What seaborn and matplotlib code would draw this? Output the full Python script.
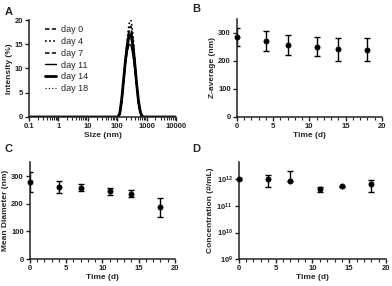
import numpy as np
import pandas as pd
import matplotlib
matplotlib.use("Agg")
import matplotlib.pyplot as plt
import seaborn as sns
from matplotlib.ticker import LogLocator, LogFormatterMathtext, MultipleLocator, FixedLocator

# ---- panel A : DLS size distributions (intensity %) ----
sizes = [0.1, 91.3, 105.7, 122.4, 141.8, 164.2, 190.1, 220.2, 255.0, 295.3,
         342.0, 396.1, 458.7, 531.2, 615.1, 712.4, 825.0, 10000]
day0 = [0, 0, 0, 0.6, 3.2, 7.5, 11.8, 15.6, 18.4, 18.7, 16.0, 11.5, 6.8, 3.0, 0.8, 0, 0, 0]
day4 = [0, 0, 0, 0.3, 2.5, 7.0, 11.8, 16.2, 19.3, 20.0, 17.0, 12.0, 6.5, 2.5, 0.4, 0, 0, 0]
day7 = [0, 0, 0, 0.5, 3.0, 7.2, 11.5, 15.2, 17.6, 17.8, 15.3, 11.0, 6.5, 2.8, 0.7, 0, 0, 0]
day11 = [0, 0, 0, 1.0, 3.8, 7.4, 10.8, 13.5, 15.0, 14.8, 12.8, 9.8, 6.4, 3.4, 1.2, 0.2, 0, 0]
day14 = [0, 0, 0, 0.8, 3.6, 7.6, 11.6, 14.8, 16.8, 17.0, 14.8, 11.0, 6.8, 3.2, 1.0, 0.1, 0, 0]
day18 = [0, 0, 0, 0.7, 3.4, 7.4, 11.4, 14.6, 16.4, 16.5, 14.3, 10.6, 6.6, 3.1, 0.9, 0.1, 0, 0]
day_labels = ["day 0", "day 4", "day 7", "day 11", "day 14", "day 18"]

# ---- panels B-D : stability over time ----
time_d = [0, 4, 7, 11, 14, 18]
z_avg = [285, 271, 257, 250, 241, 239]
z_err = [32, 37, 35, 34, 41, 41]
mean_diam = [278, 260, 258, 245, 236, 187]
mean_err = [37, 22, 13, 12, 12, 34]
conc = [1.05e12, 1.0e12, 8.5e11, 4.4e11, 5.6e11, 6.5e11]
conc_err_lo = [1.0e11, 5.0e11, 0, 9.0e10, 3.0e10, 3.2e11]   # lower arm would go below zero on day 7
conc_err_hi = [1.0e11, 5.0e11, 1.25e12, 9.0e10, 3.0e10, 3.2e11]

sns.set_style("ticks")
plt.rcParams["font.family"] = ["Liberation Sans", "DejaVu Sans"]
plt.rcParams["axes.linewidth"] = 1.1
plt.rcParams["xtick.major.width"] = 1.0
plt.rcParams["ytick.major.width"] = 1.0
plt.rcParams["xtick.minor.width"] = 0.8
plt.rcParams["xtick.major.size"] = 3
plt.rcParams["ytick.major.size"] = 3
plt.rcParams["xtick.minor.size"] = 2
plt.rcParams["xtick.major.pad"] = 1.5
plt.rcParams["ytick.major.pad"] = 1.2
plt.rcParams["mathtext.default"] = "regular"

fig = plt.figure(figsize=(3.92, 2.86), dpi=100)
fig.patch.set_facecolor("white")

tick_fs = 5.5
lab_fs = 6


def style_ax(ax):
    sns.despine(ax=ax)
    for lab in ax.get_xticklabels() + ax.get_yticklabels():
        lab.set_fontweight("bold")
        lab.set_fontsize(tick_fs)
    ax.tick_params(colors="#222222", labelcolor="#222222")
    for s in ["left", "bottom"]:
        ax.spines[s].set_color("#222222")


# panel A
axA = fig.add_axes([0.074, 0.591, 0.375, 0.339])
dfA = pd.DataFrame({"size": sizes * 6,
                    "intensity": day0 + day4 + day7 + day11 + day14 + day18,
                    "day": np.repeat(day_labels, len(sizes))})
styles = {"day 0": ((3, 1.5), 1.1), "day 4": ((1, 1.5), 1.2), "day 7": ((3, 1.5), 1.1),
          "day 11": ((None, None), 1.0), "day 14": ((None, None), 2.0), "day 18": ((1, 2), 0.8)}
for d in day_labels:
    sub = dfA[dfA["day"] == d]
    dash, lw = styles[d]
    sns.lineplot(data=sub, x="size", y="intensity", ax=axA, color="black",
                 linewidth=lw, label=d)
    line = axA.get_lines()[-1]
    if dash[0] is not None:
        line.set_dashes(dash)
axA.set_xscale("log")
axA.set_xlim(0.1, 10000)
axA.set_ylim(0, 20)
axA.xaxis.set_major_locator(FixedLocator([0.1, 1, 10, 100, 1000, 10000]))
axA.set_xticklabels(["0.1", "1", "10", "100", "1000", "10000"])
axA.xaxis.set_minor_locator(LogLocator(base=10, subs=np.arange(2, 10), numticks=20))
axA.yaxis.set_major_locator(MultipleLocator(5))
axA.set_xlabel("Size (nm)", fontsize=lab_fs, fontweight="bold", labelpad=1)
axA.set_ylabel("Intensity (%)", fontsize=lab_fs, fontweight="bold", labelpad=1.5)
axA.legend(frameon=False, fontsize=6.5, loc="upper left", bbox_to_anchor=(0.07, 1.0),
           handlelength=1.2, handletextpad=0.6, labelspacing=0.3, borderaxespad=0.2)
style_ax(axA)


def time_panel(ax, y, err, ylabel):
    ax.errorbar(time_d, y, yerr=err, fmt="none", ecolor="black", elinewidth=1.0,
                capsize=2, capthick=1.0)
    sns.scatterplot(x=time_d, y=y, ax=ax, color="black", s=14, edgecolor="black",
                    linewidth=0.5, zorder=3, clip_on=False)
    ax.set_xlim(0, 20)
    ax.xaxis.set_major_locator(MultipleLocator(5))
    ax.xaxis.set_minor_locator(MultipleLocator(1))
    ax.set_xlabel("Time (d)", fontsize=lab_fs, fontweight="bold", labelpad=1)
    ax.set_ylabel(ylabel, fontsize=lab_fs, fontweight="bold", labelpad=1.5)


# panel B
axB = fig.add_axes([0.604, 0.591, 0.370, 0.343])
time_panel(axB, z_avg, z_err, "Z-average (nm)")
axB.set_ylim(0, 350)
axB.set_yticks([0, 100, 200, 300])
style_ax(axB)

# panel C
axC = fig.add_axes([0.076, 0.094, 0.370, 0.339])
time_panel(axC, mean_diam, mean_err, "Mean Diameter (nm)")
axC.set_ylim(0, 350)
axC.set_yticks([0, 100, 200, 300])
style_ax(axC)

# panel D
axD = fig.add_axes([0.609, 0.094, 0.376, 0.339])
time_panel(axD, conc, [conc_err_lo, conc_err_hi], "Concentration (#/mL)")
axD.set_yscale("log")
axD.set_ylim(1e9, 4.5e12)
axD.yaxis.set_major_locator(FixedLocator([1e9, 1e10, 1e11, 1e12]))
axD.yaxis.set_major_formatter(LogFormatterMathtext())
axD.yaxis.set_minor_locator(FixedLocator([]))
style_ax(axD)

for x, y, t in [(0.012, 0.975, "A"), (0.49, 0.985, "B"), (0.012, 0.495, "C"), (0.49, 0.495, "D")]:
    fig.text(x, y, t, fontsize=8, fontweight="bold", va="top", ha="left")

fig.savefig("out.png", dpi=100)
